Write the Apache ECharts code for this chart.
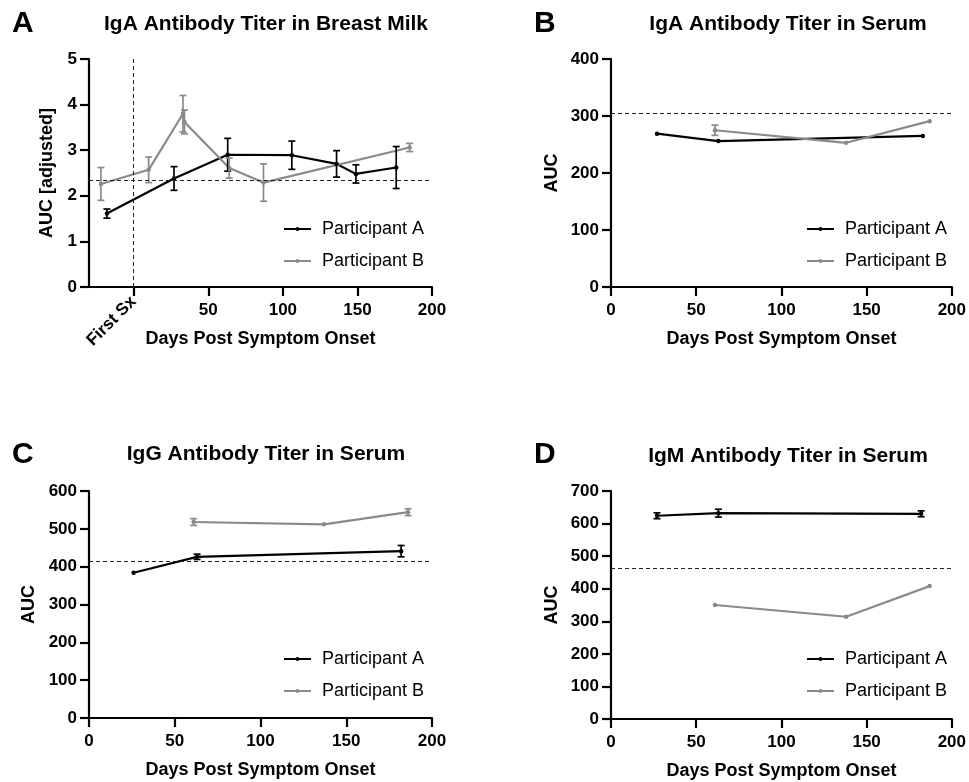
<!DOCTYPE html>
<html>
<head>
<meta charset="utf-8">
<script src="https://cdn.jsdelivr.net/npm/echarts@6/dist/echarts.min.js"></script>
<style>
  html, body { margin: 0; padding: 0; background: #fff; }
  #chart { width: 969px; height: 782px; }
</style>
</head>
<body>
<div id="chart"></div>
<script>
// ---------- DATA ----------
const seriesNames = ['Participant A', 'Participant B'];
const xTickValues = [0, 50, 100, 150, 200];
const firstSxLabel = 'First Sx';

// Panel A: IgA in breast milk (AUC adjusted)
const milkA_days = [-18, 27, 63, 106, 136, 149, 176];
const milkA_auc  = [1.61, 2.38, 2.90, 2.89, 2.70, 2.48, 2.62];
const milkA_err  = [0.10, 0.26, 0.36, 0.31, 0.29, 0.20, 0.46];
const milkB_days = [-22, 10, 33, 34, 64, 87, 185];
const milkB_auc  = [2.26, 2.57, 3.80, 3.62, 2.61, 2.29, 3.06];
const milkB_err  = [0.36, 0.28, 0.40, 0.26, 0.22, 0.41, 0.09];
const milkCutoff = 2.35;

// Panel B: IgA in serum
const igaA_days = [27, 63, 183];
const igaA_auc  = [269, 256, 265];
const igaA_err  = [0, 0, 0];
const igaB_days = [61, 138, 187];
const igaB_auc  = [275, 253, 291];
const igaB_err  = [9, 0, 0];
const igaCutoff = 305;

// Panel C: IgG in serum
const iggA_days = [26, 63, 182];
const iggA_auc  = [384, 426, 441];
const iggA_err  = [0, 7, 15];
const iggB_days = [61, 137, 186];
const iggB_auc  = [518, 512, 544];
const iggB_err  = [9, 0, 9];
const iggCutoff = 415;

// Panel D: IgM in serum
const igmA_days = [27, 63, 182];
const igmA_auc  = [624, 632, 630];
const igmA_err  = [9, 12, 9];
const igmB_days = [61, 138, 187];
const igmB_auc  = [350, 314, 408];
const igmB_err  = [0, 0, 0];
const igmCutoff = 464;

const panelTitles = ['IgA Antibody Titer in Breast Milk', 'IgA Antibody Titer in Serum',
                     'IgG Antibody Titer in Serum', 'IgM Antibody Titer in Serum'];
const panelLetters = ['A', 'B', 'C', 'D'];
const yNames = ['AUC [adjusted]', 'AUC', 'AUC', 'AUC'];
const xName = 'Days Post Symptom Onset';

// ---------- STYLE ----------
const FONT = '"Liberation Sans", Arial, Helvetica, sans-serif';
const BLACK = '#000000';
const GRAY = '#8a8a8a';
const colors = [BLACK, GRAY];

const grids = [
  { left: 89, top: 59, width: 343, height: 228 },
  { left: 611, top: 59, width: 343, height: 228 },
  { left: 89, top: 491, width: 343, height: 227 },
  { left: 611, top: 491, width: 343, height: 228 }
];

function axisBase() {
  return {
    axisLine: { show: true, onZero: false, lineStyle: { color: '#000', width: 2.2 } },
    axisTick: { show: true, length: 9, lineStyle: { color: '#000', width: 2.2 } },
    axisLabel: { color: '#000', fontWeight: 'bold', fontSize: 17, fontFamily: FONT },
    splitLine: { show: false },
    nameTextStyle: { color: '#000', fontWeight: 'bold', fontSize: 18, fontFamily: FONT }
  };
}

const xAxes = [];
// Panel A main x axis
xAxes.push(Object.assign(axisBase(), {
  type: 'value', gridIndex: 0, min: -30, max: 200,
  name: xName, nameLocation: 'middle', nameGap: 43
}));
xAxes[0].axisTick.customValues = xTickValues;
xAxes[0].axisLabel.customValues = xTickValues.slice(1);
xAxes[0].axisLabel.margin = 15;
// Panel A "First Sx" label axis
xAxes.push({
  type: 'value', gridIndex: 0, min: -30, max: 200, position: 'bottom',
  axisLine: { show: false }, axisTick: { show: false }, splitLine: { show: false },
  axisLabel: { customValues: [0], rotate: 45, margin: 12, formatter: () => firstSxLabel,
               color: '#000', fontWeight: 'bold', fontSize: 17, fontFamily: FONT }
});
for (let g = 1; g < 4; g++) {
  const ax = Object.assign(axisBase(), {
    type: 'value', gridIndex: g, min: 0, max: 200, interval: 50,
    name: xName, nameLocation: 'middle', nameGap: 43
  });
  ax.axisLabel.margin = 15;
  xAxes.push(ax);
}

const yMax = [5, 400, 600, 700];
const yInterval = [1, 100, 100, 100];
const yGap = [33, 50, 51, 50];
const yAxes = [];
for (let g = 0; g < 4; g++) {
  const ax = Object.assign(axisBase(), {
    type: 'value', gridIndex: g, min: 0, max: yMax[g], interval: yInterval[g],
    name: yNames[g], nameLocation: 'middle', nameGap: yGap[g]
  });
  ax.axisLabel.margin = 12;
  yAxes.push(ax);
}
const xIdx = [0, 2, 3, 4];

const panelData = [
  [[milkA_days, milkA_auc, milkA_err], [milkB_days, milkB_auc, milkB_err], milkCutoff],
  [[igaA_days, igaA_auc, igaA_err], [igaB_days, igaB_auc, igaB_err], igaCutoff],
  [[iggA_days, iggA_auc, iggA_err], [iggB_days, iggB_auc, iggB_err], iggCutoff],
  [[igmA_days, igmA_auc, igmA_err], [igmB_days, igmB_auc, igmB_err], igmCutoff]
];

function errorRender(color) {
  return function (params, api) {
    const x = api.value(0), lo = api.value(2), hi = api.value(3);
    const pLo = api.coord([x, lo]);
    const pHi = api.coord([x, hi]);
    const cap = 3.5;
    const style = { stroke: color, lineWidth: 1.7, fill: null };
    return {
      type: 'group',
      children: [
        { type: 'line', shape: { x1: pLo[0], y1: pLo[1], x2: pHi[0], y2: pHi[1] }, style },
        { type: 'line', shape: { x1: pHi[0] - cap, y1: pHi[1], x2: pHi[0] + cap, y2: pHi[1] }, style },
        { type: 'line', shape: { x1: pLo[0] - cap, y1: pLo[1], x2: pLo[0] + cap, y2: pLo[1] }, style }
      ]
    };
  };
}

const series = [];
for (let g = 0; g < 4; g++) {
  const pd = panelData[g];
  for (let s = 0; s < 2; s++) {
    const [days, auc, err] = pd[s];
    const line = {
      type: 'line', name: seriesNames[s], xAxisIndex: xIdx[g], yAxisIndex: g,
      data: days.map((d, i) => [d, auc[i]]),
      symbol: 'circle', symbolSize: 4.5, showSymbol: true,
      itemStyle: { color: colors[s] },
      lineStyle: { color: colors[s], width: 2.2 },
      animation: false, z: 3
    };
    if (s === 0) {
      const ml = [{ yAxis: pd[2] }];
      if (g === 0) ml.push({ xAxis: 0 });
      line.markLine = {
        silent: true, symbol: 'none', label: { show: false },
        lineStyle: { color: '#222', type: [4, 3], width: 1 },
        data: ml, animation: false
      };
    }
    series.push(line);
    const eb = [];
    days.forEach((d, i) => { if (err[i] > 0) eb.push([d, auc[i], auc[i] - err[i], auc[i] + err[i]]); });
    series.push({
      type: 'custom', name: 'err' + g + s, xAxisIndex: xIdx[g], yAxisIndex: g,
      renderItem: errorRender(colors[s]), data: eb,
      encode: { x: 0, y: [1, 2, 3] }, animation: false, z: 4, silent: true
    });
  }
}

const titleCenters = [[261, 9], [783, 9], [261, 439], [783, 441]];
const letterPos = [[7, 4], [529, 4], [7, 435], [529, 435]];
const titles = [];
for (let g = 0; g < 4; g++) {
  titles.push({
    text: panelTitles[g], left: titleCenters[g][0], top: titleCenters[g][1], textAlign: 'center',
    textStyle: { color: '#000', fontWeight: 'bold', fontSize: 21, fontFamily: FONT }
  });
  titles.push({
    text: panelLetters[g], left: letterPos[g][0], top: letterPos[g][1],
    textStyle: { color: '#000', fontWeight: 'bold', fontSize: 30, fontFamily: FONT }
  });
}

const legendPos = [[283, 220], [806, 220], [283, 650], [806, 650]];
const legends = legendPos.map(p => ({
  data: seriesNames, orient: 'vertical', left: p[0], top: p[1], padding: 0,
  itemWidth: 27, itemHeight: 5, itemGap: 14, selectedMode: false,
  textStyle: { color: '#000', fontSize: 18, fontFamily: FONT, padding: [0, 0, 0, 6] }
}));

const chart = echarts.init(document.getElementById('chart'), null, { renderer: 'canvas' });
chart.setOption({
  backgroundColor: '#fff',
  animation: false,
  title: titles,
  legend: legends,
  grid: grids,
  xAxis: xAxes,
  yAxis: yAxes,
  series: series
});
</script>
</body>
</html>
